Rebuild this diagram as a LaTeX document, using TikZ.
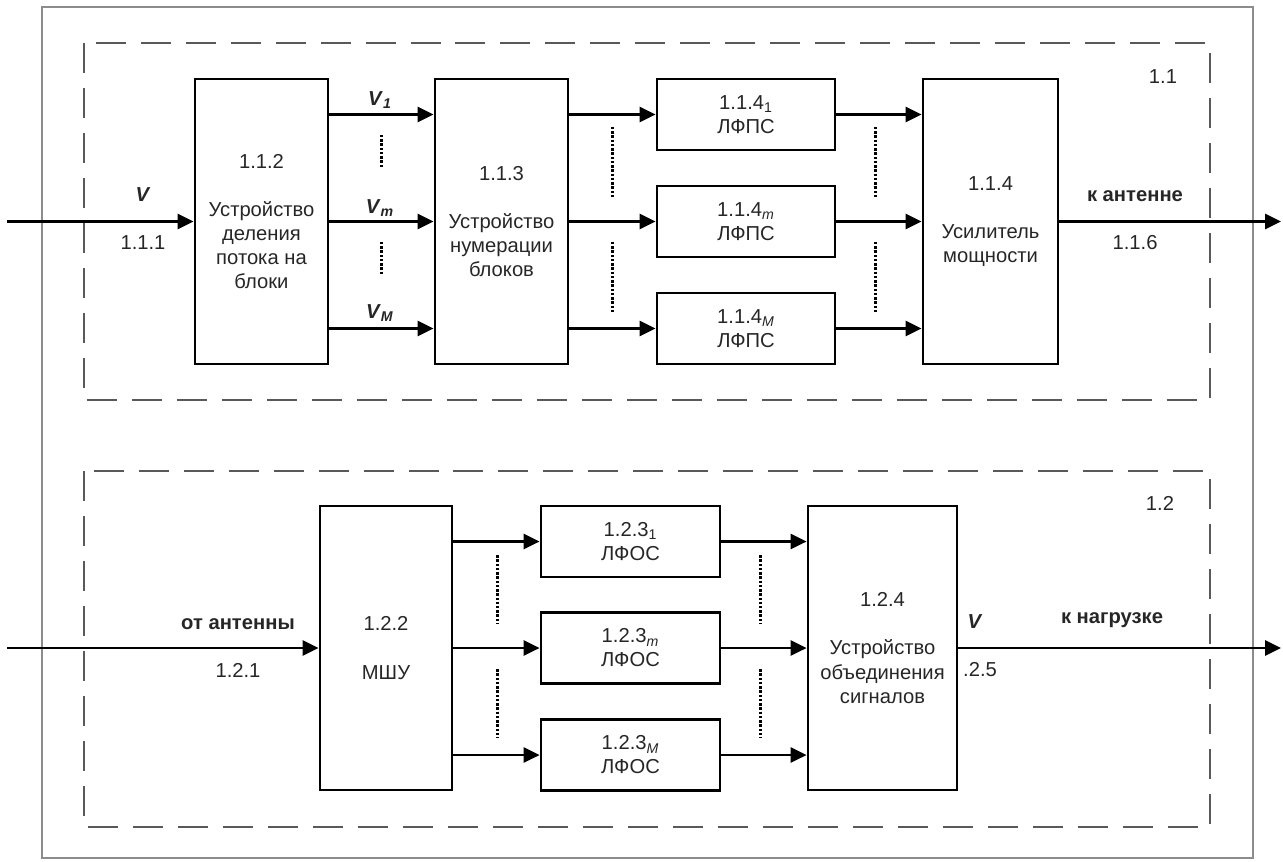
\documentclass[tikz,border=0pt]{standalone}
\usepackage{fontspec}
\setmainfont{Liberation Sans}
\usetikzlibrary{arrows.meta, positioning}

\newcommand{\vsig}[1]{\textbf{\textit{V}}\textsubscript{\textbf{\textit{#1}}}}

\begin{document}
\begin{tikzpicture}[x=0.02cm, y=-0.02cm,
    font=\fontsize{11.5}{13.7}\selectfont, text=black!85,
    blk/.style={draw=black, line width=0.055cm, align=center, inner sep=0pt},
    tall/.style={blk, minimum width=2.66cm, minimum height=5.7cm},
    filt/.style={blk, minimum width=3.56cm, minimum height=1.42cm},
    conn/.style={line width=0.055cm, -{Triangle[length=0.32cm, width=0.3cm]}},
    grp/.style={draw=black!65, line width=0.045cm, dash pattern=on 0.6cm off 0.3cm},
    vdots/.style={line width=0.06cm, dash pattern=on 0.05cm off 0.035cm},
    lbl/.style={inner sep=1pt}]
\useasboundingbox (0,0) rectangle (1283,861);

% outer frame and the two groups
\draw[draw=black!45, line width=0.05cm] (42,7) rectangle (1253,858);
\draw[grp] (84,43) rectangle (1210,400);
\draw[grp] (84,471) rectangle (1210,827);
\node[lbl] (g11) at (1163,77) {1.1};
\node[lbl] (g12) at (1160,503) {1.2};

% transmitter
\node[tall] (b112) at (261.5,221.5) {1.1.2\\[13.7pt]Устройство\\деления\\потока на\\блоки};
\node[tall] (b113) at (501.5,221.5) {1.1.3\\[13.7pt]Устройство\\нумерации\\блоков};
\node[filt] (f11) at (746,114.5) {1.1.4\textsubscript{1}\\ЛФПС};
\node[filt] (f1m) at (746,221.5) {1.1.4\textsubscript{\textit{m}}\\ЛФПС};
\node[filt] (f1M) at (746,328.5) {1.1.4\textsubscript{\textit{M}}\\ЛФПС};
\node[tall, minimum width=2.7cm] (b114) at (990.5,221.5) {1.1.4\\[13.7pt]Усилитель\\мощности};

\coordinate (in1) at (7,221);
\coordinate (out1) at (1281,221);
\draw[conn] (b112.west -| in1) -- (b112.west);
\draw[conn] (b114.east) -- (b114.east -| out1);
\foreach \r in {1,m,M} {
  \draw[conn] (b112.east |- f1\r.west) -- (b113.west |- f1\r.west);
  \draw[conn] (b113.east |- f1\r.west) -- (f1\r.west);
  \draw[conn] (f1\r.east) -- (b114.west |- f1\r.east);
}

\node[lbl] (vin) at (143,195) {\textbf{\textit{V}}};
\node[lbl] (n111) at (143,243) {1.1.1};
\node[lbl] (v1) at (380,100) {\vsig{1}};
\node[lbl] (vm) at (380,208) {\vsig{m}};
\node[lbl] (vM) at (380,313) {\vsig{M}};
\node[lbl] (ant1) at (1135,196) {\textbf{к антенне}};
\node[lbl] (n116) at (1135,243) {1.1.6};

\draw[vdots] (381,135) -- (381,168);
\draw[vdots] (381,242) -- (381,275);
\foreach \x in {612,875} {
  \draw[vdots] (\x,127) -- (\x,198);
  \draw[vdots] (\x,242) -- (\x,312);
}

% receiver
\node[tall, minimum width=2.64cm, minimum height=5.68cm] (b122) at (386,648) {1.2.2\\[13.7pt]МШУ};
\node[filt, minimum width=3.58cm] (f21) at (630.5,541.5) {1.2.3\textsubscript{1}\\ЛФОС};
\node[filt, minimum width=3.58cm] (f2m) at (630.5,648) {1.2.3\textsubscript{\textit{m}}\\ЛФОС};
\node[filt, minimum width=3.58cm] (f2M) at (630.5,755) {1.2.3\textsubscript{\textit{M}}\\ЛФОС};
\node[tall, minimum width=2.98cm, minimum height=5.68cm] (b124) at (882.5,648) {1.2.4\\[13.7pt]Устройство\\объединения\\сигналов};

\coordinate (in2) at (7,648);
\coordinate (out2) at (1281,648);
\draw[conn] (b122.west -| in2) -- (b122.west);
\draw[conn] (b124.east) -- (b124.east -| out2);
\foreach \r in {1,m,M} {
  \draw[conn] (b122.east |- f2\r.west) -- (f2\r.west);
  \draw[conn] (f2\r.east) -- (b124.west |- f2\r.east);
}

\node[lbl] (ant2) at (238,624) {\textbf{от антенны}};
\node[lbl] (n121) at (238,670) {1.2.1};
\node[lbl] (vout) at (975,622) {\textbf{\textit{V}}};
\node[lbl] (n125) at (980,670) {.2.5};
\node[lbl] (load) at (1112,620) {\textbf{к нагрузке}};

\foreach \x in {497,760} {
  \draw[vdots] (\x,555) -- (\x,624);
  \draw[vdots] (\x,669) -- (\x,738);
}
\end{tikzpicture}
\end{document}
